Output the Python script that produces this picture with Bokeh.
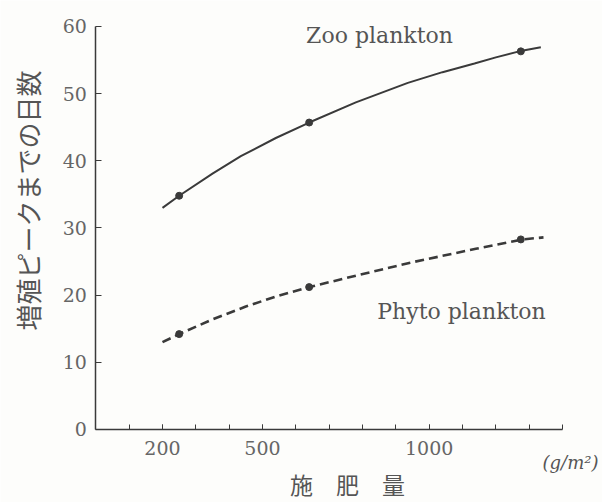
from math import pi

from bokeh.embed import file_html
from bokeh.models import FixedTicker, Label, LinearAxis, Range1d
from bokeh.plotting import figure
from bokeh.resources import INLINE

# Fertiliser dose (g/m2) and days until the bloom peak, observed points
dose = [250, 640, 1275]
zoo_days = [34.8, 45.7, 56.3]
phyto_days = [14.2, 21.2, 28.3]

# Hand-drawn trend curves
zoo_curve_x = [200, 250, 350, 435, 540, 640, 780, 936, 1040, 1136, 1200, 1270, 1335]
zoo_curve_y = [33.0, 34.8, 38.1, 40.7, 43.4, 45.7, 48.7, 51.6, 53.2, 54.5, 55.4, 56.3, 56.9]
phyto_curve_x = [200, 250, 350, 450, 540, 640, 780, 940, 1140, 1280, 1343]
phyto_curve_y = [13.0, 14.2, 16.4, 18.3, 19.8, 21.2, 22.9, 24.8, 26.9, 28.3, 28.6]

x_major = [200, 500, 1000]
x_minor = list(range(100, 1500, 100))
y_major = [0, 10, 20, 30, 40, 50, 60]

INK = "#3a3a3a"
TEXT = "#555555"
SERIF = "DejaVu Serif"
JP = "Noto Sans CJK JP"

# The frame spans the whole page; the axes sit at fixed data locations so
# titles and the unit can be placed anywhere as labels.
p = figure(
    width=602, height=502,
    output_backend="svg", toolbar_location=None,
    x_range=Range1d(-286, 1520), y_range=Range1d(-10.87, 63.87),
    x_axis_location=None, y_axis_location=None,
    min_border=0,
    background_fill_color="#fdfdfb", border_fill_color="#fdfdfb",
)
p.outline_line_color = None
p.grid.visible = False

# x axis: linear dose scale, ticks pointing inward
xa = LinearAxis(fixed_location=0, bounds=(0, 1400))
xa.ticker = FixedTicker(ticks=x_major, minor_ticks=x_minor)
xa.axis_line_color = INK
xa.axis_line_width = 1.5
xa.major_tick_in = 5
xa.major_tick_out = 0
xa.minor_tick_in = 5
xa.minor_tick_out = 0
xa.major_tick_line_color = INK
xa.minor_tick_line_color = INK
xa.major_label_standoff = 12
xa.major_label_text_font = SERIF
xa.major_label_text_font_size = "19px"
xa.major_label_text_color = "#666666"
p.add_layout(xa, "below")

# y axis: days
ya = LinearAxis(fixed_location=0, bounds=(0, 60))
ya.ticker = FixedTicker(ticks=y_major)
ya.axis_line_color = INK
ya.axis_line_width = 1.5
ya.major_tick_in = 6
ya.major_tick_out = 0
ya.minor_tick_line_color = None
ya.major_tick_line_color = INK
ya.major_label_standoff = 9
ya.major_label_text_font = SERIF
ya.major_label_text_font_size = "19px"
ya.major_label_text_color = "#666666"
p.add_layout(ya, "left")

# curves and observed points
p.line(zoo_curve_x, zoo_curve_y, line_color=INK, line_width=2)
p.line(phyto_curve_x, phyto_curve_y, line_color=INK, line_width=2.6, line_dash="9 5")
p.scatter(dose, zoo_days, size=7, color=INK)
p.scatter(dose, phyto_days, size=7, color=INK)

# series names
p.add_layout(Label(x=851, y=58.66, text="Zoo plankton", text_align="center",
                   text_baseline="middle", text_font=SERIF, text_font_size="22px",
                   text_color=TEXT))
p.add_layout(Label(x=1097, y=17.57, text="Phyto plankton", text_align="center",
                   text_baseline="middle", text_font=SERIF, text_font_size="22px",
                   text_color=TEXT))

# axis titles and unit
p.add_layout(Label(x=-205, y=34.1, text="増殖ピークまでの日数", angle=pi / 2,
                   text_align="center", text_baseline="middle", text_font=JP,
                   text_font_size="26px", text_color=TEXT))
p.add_layout(Label(x=755, y=-8.1, text="施　肥　量", text_align="center",
                   text_baseline="middle", text_font=JP, text_font_size="23px",
                   text_color=TEXT))
p.add_layout(Label(x=1424, y=-4.9, text="(g/m²)", text_align="center",
                   text_baseline="middle", text_font=SERIF, text_font_size="18px",
                   text_font_style="italic", text_color=TEXT))

open("out.html", "w").write(file_html(p, INLINE))
